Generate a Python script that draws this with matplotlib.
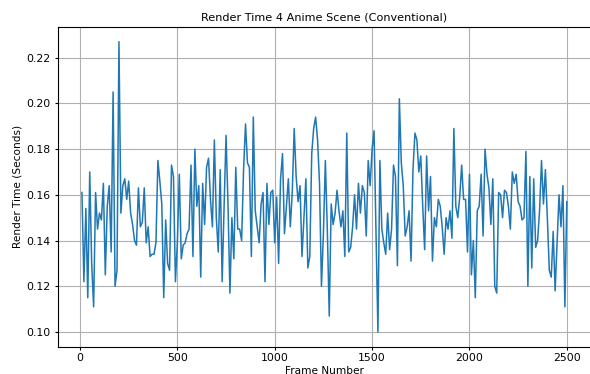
import numpy as np
import matplotlib
matplotlib.use("Agg")
import matplotlib.pyplot as plt

# Render time per frame (one sample every 10 frames)
times_a = [0.161, 0.122, 0.154, 0.115, 0.170, 0.130, 0.111, 0.161, 0.145, 0.152,
           0.149, 0.165, 0.125, 0.155, 0.164, 0.135, 0.205, 0.120, 0.127, 0.227,
           0.152, 0.164, 0.167, 0.158, 0.166, 0.152, 0.147]
times_b = [0.140, 0.138, 0.163, 0.146, 0.148, 0.163, 0.139, 0.146, 0.133, 0.134,
           0.134, 0.139, 0.175, 0.166, 0.156, 0.115, 0.149, 0.130, 0.127, 0.173,
           0.168, 0.122, 0.139, 0.169, 0.132, 0.138, 0.139, 0.143, 0.145, 0.173,
           0.133, 0.180, 0.155]
times_c = [0.164, 0.124, 0.165, 0.147, 0.172, 0.176, 0.158, 0.146, 0.184, 0.150,
           0.135, 0.171, 0.122, 0.155, 0.186, 0.156, 0.117, 0.150, 0.132, 0.172,
           0.145, 0.145, 0.140, 0.171, 0.191, 0.174, 0.172, 0.133, 0.194, 0.153,
           0.146, 0.139, 0.156]
times_d = [0.161, 0.122, 0.165, 0.147, 0.161, 0.162, 0.139, 0.159, 0.130, 0.167,
           0.178, 0.143, 0.155, 0.167, 0.146, 0.161, 0.189, 0.168, 0.157, 0.164,
           0.133, 0.150, 0.167, 0.128, 0.133, 0.178, 0.189, 0.194, 0.184, 0.165,
           0.120, 0.143, 0.175, 0.145]
times_e = [0.107, 0.156, 0.147, 0.152, 0.162, 0.153, 0.146, 0.153, 0.133, 0.187,
           0.135, 0.137, 0.146, 0.160, 0.145, 0.165, 0.152, 0.164, 0.161, 0.142,
           0.175, 0.164, 0.180, 0.188, 0.145, 0.100, 0.175, 0.145, 0.139, 0.134,
           0.152, 0.136, 0.145]
times_f = [0.173, 0.168, 0.129, 0.202, 0.174, 0.164, 0.142, 0.146, 0.153, 0.131,
           0.171, 0.187, 0.184, 0.170, 0.177, 0.155, 0.136, 0.177, 0.153, 0.168,
           0.131, 0.150, 0.146, 0.158, 0.155, 0.146, 0.134, 0.150, 0.145, 0.153,
           0.141, 0.189, 0.155, 0.150]
times_g = [0.159, 0.173, 0.158, 0.158, 0.135, 0.169, 0.125, 0.140, 0.115, 0.153,
           0.155, 0.169, 0.142, 0.180, 0.169, 0.163, 0.147, 0.167, 0.120, 0.117,
           0.161, 0.160, 0.150, 0.162, 0.161, 0.155, 0.145, 0.170, 0.165, 0.169,
           0.157]
times_h = [0.155, 0.149, 0.150, 0.179, 0.120, 0.168, 0.128, 0.167, 0.137, 0.140,
           0.153, 0.175, 0.156, 0.171, 0.150, 0.127, 0.124, 0.144, 0.118, 0.139,
           0.160, 0.146, 0.164, 0.111, 0.157]

render_time = times_a + times_b + times_c + times_d + times_e + times_f + times_g + times_h
frames = np.arange(1, len(render_time) + 1) * 10

# Figure (axes runs a little past the right edge, like the cropped original)
fig = plt.figure(figsize=(5.9, 3.74), dpi=100)
ax = fig.add_axes([0.0978, 0.0735, 0.904, 0.854])
ax.plot(frames, render_time, color='#1f77b4', lw=1.1)

# Labels and cosmetics
ax.set_title('Render Time 4 Anime Scene (Conventional)', fontsize=8.1, pad=4.5)
ax.set_xlabel('Frame Number', fontsize=7.6, labelpad=1.5)
ax.set_ylabel('Render Time (Seconds)', fontsize=7.6, labelpad=3)
ax.tick_params(labelsize=7.8, length=2.5, pad=2.5)
ax.grid(True)

fig.savefig('out.png', dpi=100)
